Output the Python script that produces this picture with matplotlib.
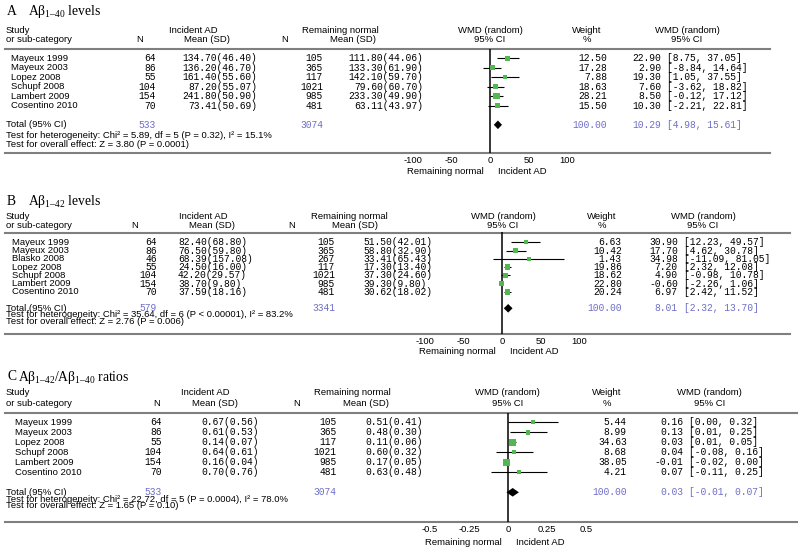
import matplotlib
matplotlib.use('Agg')
import matplotlib.pyplot as plt
from matplotlib.transforms import blended_transform_factory

plt.rcParams['axes.unicode_minus'] = False
plt.rcParams['mathtext.fontset'] = 'custom'
plt.rcParams['mathtext.rm'] = 'Liberation Serif'
plt.rcParams['mathtext.it'] = 'Liberation Serif'

SANS = 'Liberation Sans'
MONO = 'Liberation Mono'
SERIF = 'Liberation Serif'
GREEN = '#4fb84f'
BLUE = '#6e6ec8'
RULE = '#7f7f7f'

# ---- Panel A: Abeta 1-40 levels ----
studies_a = ['Mayeux 1999', 'Mayeux 2003', 'Lopez 2008', 'Schupf 2008', 'Lambert 2009', 'Cosentino 2010']
n_ad_a = [64, 86, 55, 104, 154, 70]
mean_ad_a = [134.70, 136.20, 161.40, 87.20, 241.80, 73.41]
sd_ad_a = [46.40, 46.70, 55.60, 55.07, 50.90, 50.69]
n_rn_a = [105, 365, 117, 1021, 985, 481]
mean_rn_a = [111.80, 133.30, 142.10, 79.60, 233.30, 63.11]
sd_rn_a = [44.06, 61.90, 59.70, 60.70, 49.90, 43.97]
weight_a = [12.50, 17.28, 7.88, 18.63, 28.21, 15.50]
wmd_a = [22.90, 2.90, 19.30, 7.60, 8.50, 10.30]
lo_a = [8.75, -8.84, 1.05, -3.62, -0.12, -2.21]
hi_a = [37.05, 14.64, 37.55, 18.82, 17.12, 22.81]
total_a = [10.29, 4.98, 15.61]
total_n_a = [533, 3074]
het_a = 'Test for heterogeneity: Chi\u00b2 = 5.89, df = 5 (P = 0.32), I\u00b2 = 15.1%'
eff_a = 'Test for overall effect: Z = 3.80 (P = 0.0001)'
ticks_a = [-100, -50, 0, 50, 100]
tick_labels_a = ['-100', '-50', '0', '50', '100']

# ---- Panel B: Abeta 1-42 levels ----
studies_b = ['Mayeux 1999', 'Mayeux 2003', 'Blasko 2008', 'Lopez 2008', 'Schupf 2008', 'Lambert 2009', 'Cosentino 2010']
n_ad_b = [64, 86, 46, 55, 104, 154, 70]
mean_ad_b = [82.40, 76.50, 68.39, 24.50, 42.20, 38.70, 37.59]
sd_ad_b = [68.80, 59.80, 157.08, 16.00, 29.57, 9.80, 18.16]
n_rn_b = [105, 365, 267, 117, 1021, 985, 481]
mean_rn_b = [51.50, 58.80, 33.41, 17.30, 37.30, 39.30, 30.62]
sd_rn_b = [42.01, 32.90, 65.43, 13.40, 24.60, 9.80, 18.02]
weight_b = [6.63, 10.42, 1.43, 19.86, 18.62, 22.80, 20.24]
wmd_b = [30.90, 17.70, 34.98, 7.20, 4.90, -0.60, 6.97]
lo_b = [12.23, 4.62, -11.09, 2.32, -0.98, -2.26, 2.42]
hi_b = [49.57, 30.78, 81.05, 12.08, 10.78, 1.06, 11.52]
total_b = [8.01, 2.32, 13.70]
total_n_b = [579, 3341]
het_b = 'Test for heterogeneity: Chi\u00b2 = 35.64, df = 6 (P < 0.00001), I\u00b2 = 83.2%'
eff_b = 'Test for overall effect: Z = 2.76 (P = 0.006)'
ticks_b = [-100, -50, 0, 50, 100]
tick_labels_b = ['-100', '-50', '0', '50', '100']

# ---- Panel C: Abeta 1-42 / 1-40 ratios ----
studies_c = ['Mayeux 1999', 'Mayeux 2003', 'Lopez 2008', 'Schupf 2008', 'Lambert 2009', 'Cosentino 2010']
n_ad_c = [64, 86, 55, 104, 154, 70]
mean_ad_c = [0.67, 0.61, 0.14, 0.64, 0.16, 0.70]
sd_ad_c = [0.56, 0.53, 0.07, 0.61, 0.04, 0.76]
n_rn_c = [105, 365, 117, 1021, 985, 481]
mean_rn_c = [0.51, 0.48, 0.11, 0.60, 0.17, 0.63]
sd_rn_c = [0.41, 0.30, 0.06, 0.32, 0.05, 0.48]
weight_c = [5.44, 8.99, 34.63, 8.68, 38.05, 4.21]
wmd_c = [0.16, 0.13, 0.03, 0.04, -0.01, 0.07]
lo_c = [0.00, 0.01, 0.01, -0.08, -0.02, -0.11]
hi_c = [0.32, 0.25, 0.05, 0.16, 0.00, 0.25]
total_c = [0.03, -0.01, 0.07]
total_n_c = [533, 3074]
het_c = 'Test for heterogeneity: Chi\u00b2 = 22.72, df = 5 (P = 0.0004), I\u00b2 = 78.0%'
eff_c = 'Test for overall effect: Z = 1.65 (P = 0.10)'
ticks_c = [-0.5, -0.25, 0, 0.25, 0.5]
tick_labels_c = ['-0.5', '-0.25', '0', '0.25', '0.5']

W, H = 800, 552
fig = plt.figure(figsize=(8, 5.52), dpi=100)
bg = fig.add_axes([0, 0, 1, 1])
bg.set_xlim(0, W)
bg.set_ylim(H, 0)
bg.axis('off')


def draw_panel(letter, title, studies, n_ad, mean_ad, sd_ad, n_rn, mean_rn, sd_rn,
               weight, wmd, lo, hi, total, total_n, het, eff, ticks, tick_labels, lay):
    # forest axes spanning the two rules
    x0, x1 = lay['ax_x']
    ax = fig.add_axes([x0 / W, 1 - lay['rule_bot'] / H, (x1 - x0) / W,
                       (lay['rule_bot'] - lay['rule_top']) / H])
    ax.set_xlim(ticks[0], ticks[-1])
    y0, dy = lay['row0'], lay['dy']
    ax.set_ylim((lay['rule_bot'] - y0) / dy, (lay['rule_top'] - y0) / dy)
    for s in ax.spines.values():
        s.set_visible(False)
    ax.patch.set_alpha(0)
    ax.set_yticks([])
    ax.set_xticks(ticks)
    ax.set_xticklabels(tick_labels, family=SANS, fontsize=6.8)
    ax.tick_params(axis='x', length=0, pad=2.2)
    ax.axvline(0, color='black', lw=1.1, zorder=1)

    rows = list(range(len(studies)))
    ax.hlines(rows, lo, hi, color='black', lw=0.8, zorder=2)
    sizes = [((3.6 + 0.09 * w) * 0.72) ** 2 for w in weight]
    ax.scatter(wmd, rows, s=sizes, marker='s', color=GREEN, linewidths=0, zorder=3)
    ty = len(studies) + 1
    hh = 4.3 / dy
    ax.fill([total[1], total[0], total[2], total[0]], [ty, ty - hh, ty, ty + hh],
            color='black', lw=0, zorder=3)

    tr = blended_transform_factory(bg.transData, ax.transData)
    c = lay['cols']

    # title
    bg.text(7, lay['title_y'], letter, family=SERIF, fontsize=9.8, va='center')
    bg.text(lay['title_x'], lay['title_y'], title, family=SERIF, fontsize=9.8, va='center')

    # header
    h1, h2 = lay['head']
    bg.text(6, h1, 'Study', family=SANS, fontsize=6.8, va='center')
    bg.text(6, h2, 'or sub-category', family=SANS, fontsize=6.8, va='center')
    bg.text(c['h_n_ad'], h2, 'N', family=SANS, fontsize=6.8, va='center', ha='center')
    bg.text(c['h_inc'], h1, 'Incident AD', family=SANS, fontsize=6.8, va='center', ha='center')
    bg.text(c['h_mean_ad'], h2, 'Mean (SD)', family=SANS, fontsize=6.8, va='center', ha='center')
    bg.text(c['h_n_rn'], h2, 'N', family=SANS, fontsize=6.8, va='center', ha='center')
    bg.text(c['h_rem'], h1, 'Remaining normal', family=SANS, fontsize=6.8, va='center', ha='center')
    bg.text(c['h_mean_rn'], h2, 'Mean (SD)', family=SANS, fontsize=6.8, va='center', ha='center')
    for hx, a, b in [(c['h_wmd'], 'WMD (random)', '95% CI'), (c['h_w'], 'Weight', '%'),
                     (c['h_wmd2'], 'WMD (random)', '95% CI')]:
        bg.text(hx, h1, a, family=SANS, fontsize=6.8, va='center', ha='center')
        bg.text(hx, h2, b, family=SANS, fontsize=6.8, va='center', ha='center')

    # rules
    bg.plot([5, lay['rule_right']], [lay['rule_top']] * 2, color=RULE, lw=1.5)
    bg.plot([5, lay['rule_right']], [lay['rule_bot']] * 2, color=RULE, lw=1.5)

    # rows
    cw = 5.87
    mono = dict(family=MONO, fontsize=6.9, va='center', transform=tr)
    for i, name in enumerate(studies):
        bg.text(c['study'], i, name, family=SANS, fontsize=6.8, va='center', transform=tr)
        bg.text(c['n_ad'], i, str(n_ad[i]), ha='right', **mono)
        bg.text(c['mean_ad'][0], i, f'{mean_ad[i]:.2f}({sd_ad[i]:.2f})', ha=c['mean_ad'][1], **mono)
        bg.text(c['n_rn'], i, str(n_rn[i]), ha='right', **mono)
        bg.text(c['mean_rn'][0], i, f'{mean_rn[i]:.2f}({sd_rn[i]:.2f})', ha=c['mean_rn'][1], **mono)
        bg.text(c['w'], i, f'{weight[i]:.2f}', ha='right', **mono)
        bg.text(c['est'], i, f'{wmd[i]:.2f}', ha='right', **mono)
        bg.text(c['est'] + cw, i, f'[{lo[i]:.2f}, {hi[i]:.2f}]', ha='left', **mono)

    # total row
    bg.text(6, ty, 'Total (95% CI)', family=SANS, fontsize=6.8, va='center', transform=tr)
    bg.text(c['n_ad'], ty, str(total_n[0]), ha='right', color=BLUE, **mono)
    bg.text(c['n_rn'], ty, str(total_n[1]), ha='right', color=BLUE, **mono)
    bg.text(c['w'], ty, f'{sum(weight):.2f}', ha='right', color=BLUE, **mono)
    bg.text(c['est'], ty, f'{total[0]:.2f}', ha='right', color=BLUE, **mono)
    bg.text(c['est'] + cw, ty, f'[{total[1]:.2f}, {total[2]:.2f}]', ha='left', color=BLUE, **mono)
    bg.text(6, lay['het_y'], het, family=SANS, fontsize=6.8, va='center')
    bg.text(6, lay['eff_y'], eff, family=SANS, fontsize=6.8, va='center')

    # side labels
    side = (ax.transData, bg.transData)
    ax.annotate('Remaining normal', xy=(0, lay['side_y']), xycoords=side, xytext=(-4.5, 0),
                textcoords='offset points', ha='right', va='center', family=SANS, fontsize=6.8)
    ax.annotate('Incident AD', xy=(0, lay['side_y']), xycoords=side, xytext=(5.5, 0),
                textcoords='offset points', ha='left', va='center', family=SANS, fontsize=6.8)


lay_a = dict(title_y=11.7, title_x=28, head=(30.7, 40), rule_top=49, rule_bot=153.3,
             row0=58.3, dy=9.5, het_y=135, eff_y=144.3, side_y=172, rule_right=770,
             ax_x=(413, 567),
             cols=dict(study=11, n_ad=156, mean_ad=(257, 'right'), n_rn=323, mean_rn=(423, 'right'),
                       w=607, est=661.4, h_n_ad=140, h_inc=193, h_mean_ad=207, h_n_rn=285,
                       h_rem=340, h_mean_rn=353, h_wmd=490, h_w=587, h_wmd2=687))
lay_b = dict(title_y=201.7, title_x=28, head=(216.7, 225.5), rule_top=232.5, rule_bot=333.5,
             row0=242.3, dy=8.25, het_y=314.5, eff_y=321.5, side_y=351, rule_right=790,
             ax_x=(425, 579),
             cols=dict(study=12, n_ad=156.7, mean_ad=(178, 'left'), n_rn=335, mean_rn=(363.3, 'left'),
                       w=621.7, est=677.7, h_n_ad=135, h_inc=203, h_mean_ad=211.7, h_n_rn=291.7,
                       h_rem=349, h_mean_rn=355, h_wmd=503, h_w=602, h_wmd2=703))
lay_c = dict(title_y=377, title_x=18.5, head=(392.7, 403.3), rule_top=412.7, rule_bot=521.7,
             row0=422.3, dy=10, het_y=499, eff_y=506, side_y=542.7, rule_right=797,
             ax_x=(430, 586),
             cols=dict(study=15, n_ad=162, mean_ad=(201.7, 'left'), n_rn=336.7, mean_rn=(365, 'left'),
                       w=626.7, est=683, h_n_ad=157, h_inc=205.7, h_mean_ad=215, h_n_rn=296.7,
                       h_rem=352, h_mean_rn=365.7, h_wmd=507.3, h_w=606.7, h_wmd2=709.3))

draw_panel('A', 'A$\\beta_{\\mathrm{1\u201340}}$ levels', studies_a, n_ad_a, mean_ad_a, sd_ad_a,
           n_rn_a, mean_rn_a, sd_rn_a, weight_a, wmd_a, lo_a, hi_a, total_a, total_n_a,
           het_a, eff_a, ticks_a, tick_labels_a, lay_a)
draw_panel('B', 'A$\\beta_{\\mathrm{1\u201342}}$ levels', studies_b, n_ad_b, mean_ad_b, sd_ad_b,
           n_rn_b, mean_rn_b, sd_rn_b, weight_b, wmd_b, lo_b, hi_b, total_b, total_n_b,
           het_b, eff_b, ticks_b, tick_labels_b, lay_b)
draw_panel('C', 'A$\\beta_{\\mathrm{1\u201342}}$/A$\\beta_{\\mathrm{1\u201340}}$ ratios', studies_c, n_ad_c,
           mean_ad_c, sd_ad_c, n_rn_c, mean_rn_c, sd_rn_c, weight_c, wmd_c, lo_c, hi_c,
           total_c, total_n_c, het_c, eff_c, ticks_c, tick_labels_c, lay_c)

fig.savefig('out.png', dpi=100)
